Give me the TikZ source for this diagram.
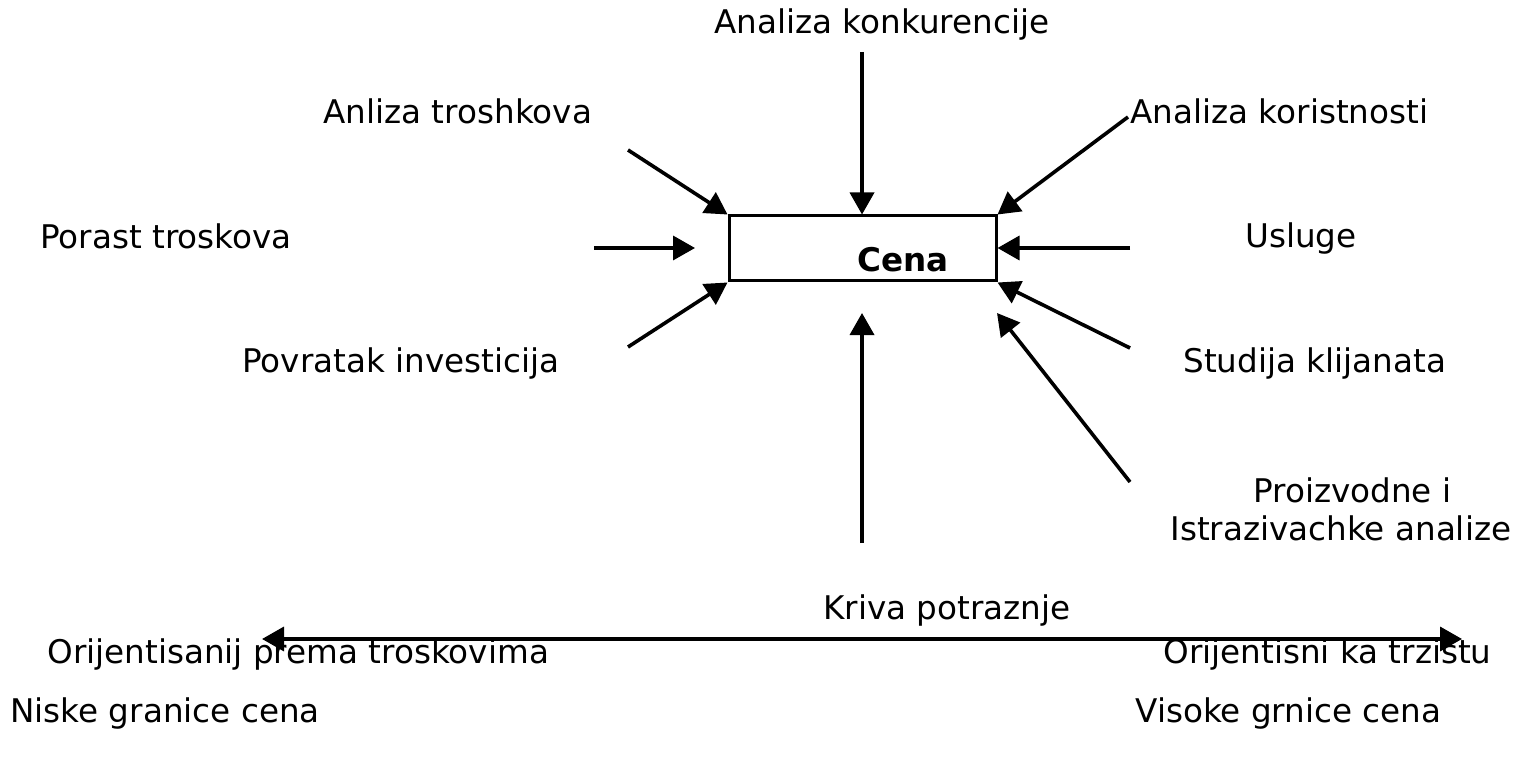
\documentclass[tikz,border=0pt]{standalone}
\usepackage{fontspec}
\setmainfont{DejaVu Sans}
\usetikzlibrary{arrows.meta}
\begin{document}
\begin{tikzpicture}[x=0.5pt,y=-0.5pt,
  lbl/.style={inner sep=0pt,anchor=base west,font=\fontsize{16.3pt}{19pt}\selectfont},
  tip/.tip={Triangle[length=11pt,width=12pt]},
  arr/.style={line width=1.8pt,-tip},
  cenabox/.style={draw,line width=1.5pt,minimum width=133.5pt,minimum height=32.5pt,inner sep=0pt},
]
\useasboundingbox (0,0) rectangle (1515,759);
\node[cenabox] (box) at (862.5,248.5) {};
\node[inner sep=0pt,anchor=base,font=\fontsize{16.3pt}{19pt}\selectfont\bfseries] (cena) at (903,271) {Cena};
% labels
\node[lbl] (konk) at (714,34) {Analiza konkurencije};
\node[lbl] (trosh) at (323,124) {Anliza troshkova};
\node[lbl] (kor) at (1130,124) {Analiza koristnosti};
\node[lbl] (porast) at (40,249) {Porast troskova};
\node[lbl] (usl) at (1245,248) {Usluge};
\node[lbl] (povr) at (242,372) {Povratak investicija};
\node[lbl] (stud) at (1183,372) {Studija klijanata};
\node[lbl] (proiz) at (1253,502) {Proizvodne i};
\node[lbl] (istr) at (1170,540) {Istrazivachke analize};
\node[lbl] (kriva) at (823,619) {Kriva potraznje};
\node[lbl] (orl) at (47,663) {Orijentisanij prema troskovima};
\node[lbl] (orr) at (1163,663) {Orijentisni ka trzistu};
\node[lbl] (niske) at (10,722) {Niske granice cena};
\node[lbl] (visoke) at (1135,722) {Visoke grnice cena};
% arrow coordinates
\coordinate (a1) at (628,150);
\coordinate (a2) at (862,52);
\coordinate (a3) at (1128,117);
\coordinate (a4s) at (594,248);
\coordinate (a4e) at (695,248);
\coordinate (a5) at (1130,248);
\coordinate (a6) at (628,347);
\coordinate (a7) at (1130,348);
\coordinate (a8s) at (1130,482);
\coordinate (a8e) at (997,313);
\coordinate (a9s) at (862,543);
\coordinate (a9e) at (862,313);
\coordinate (hl) at (262,639);
\coordinate (hr) at (1462,639);
\draw[arr] (a1) -- (box.north west);
\draw[arr] (a2) -- (box.north -| a2);
\draw[arr] (a3) -- (box.north east);
\draw[arr] (a4s) -- (a4e);
\draw[arr] (a5) -- (box.east |- a5);
\draw[arr] (a6) -- (box.south west);
\draw[arr] (a7) -- (box.south east);
\draw[arr] (a8s) -- (a8e);
\draw[arr] (a9s) -- (a9e);
\draw[line width=1.8pt,tip-tip] (hl) -- (hr);
\end{tikzpicture}
\end{document}
